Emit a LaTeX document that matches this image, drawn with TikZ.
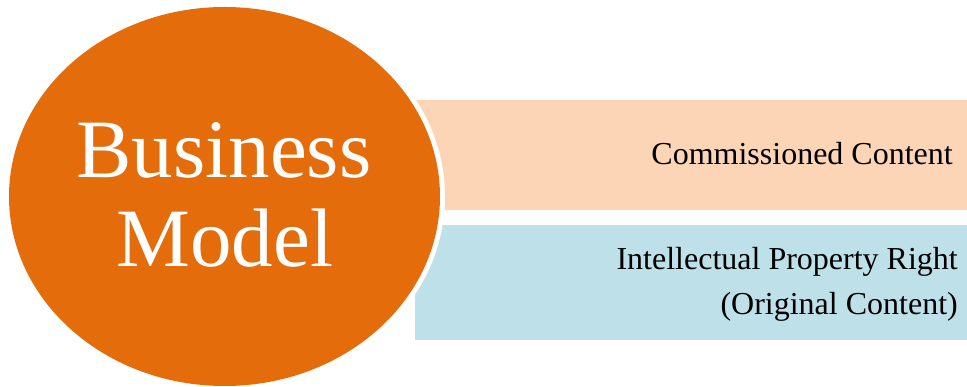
\documentclass[tikz,border=0pt]{standalone}
\usepackage{fontspec}
\setmainfont{Liberation Serif}
\usetikzlibrary{shapes.geometric}
\definecolor{bmorange}{HTML}{E46C0A}
\definecolor{bmpeach}{HTML}{FBD5B5}
\definecolor{bmblue}{HTML}{BEE0E8}
\tikzset{
  band/.style={rectangle, inner sep=0pt, outer sep=0pt, minimum width=552pt},
  bandtext/.style={inner sep=0pt, text=black, font=\fontsize{32}{45}\selectfont, align=right},
}
\begin{document}
\begin{tikzpicture}[x=1pt,y=-1pt]
\useasboundingbox (0,0) rectangle (967,387);
\node[band, fill=bmpeach, minimum height=110pt, anchor=north west] (top) at (415,100) {};
\node[band, fill=bmblue, minimum height=115pt, anchor=north west] (bottom) at (415,225) {};
\node[ellipse, fill=white, inner sep=0pt, minimum width=441pt, minimum height=389pt] (ring) at (224.5,196.5) {};
\node[ellipse, fill=bmorange, inner sep=0pt, minimum width=431pt, minimum height=379pt] (circ) at (224.5,196.5) {};
\node[inner sep=0pt, text=white, font=\fontsize{83}{89}\selectfont, anchor=base] (bm1) at (224,178) {Business};
\node[inner sep=0pt, text=white, font=\fontsize{83}{89}\selectfont, anchor=base] (bm2) at (225,267) {Model};
\node[bandtext, anchor=base east] (t1) at (953,165) {Commissioned Content};
\node[bandtext, anchor=base east] (t2) at (958,315) {Intellectual Property Right\\(Original Content)};
\end{tikzpicture}
\end{document}
